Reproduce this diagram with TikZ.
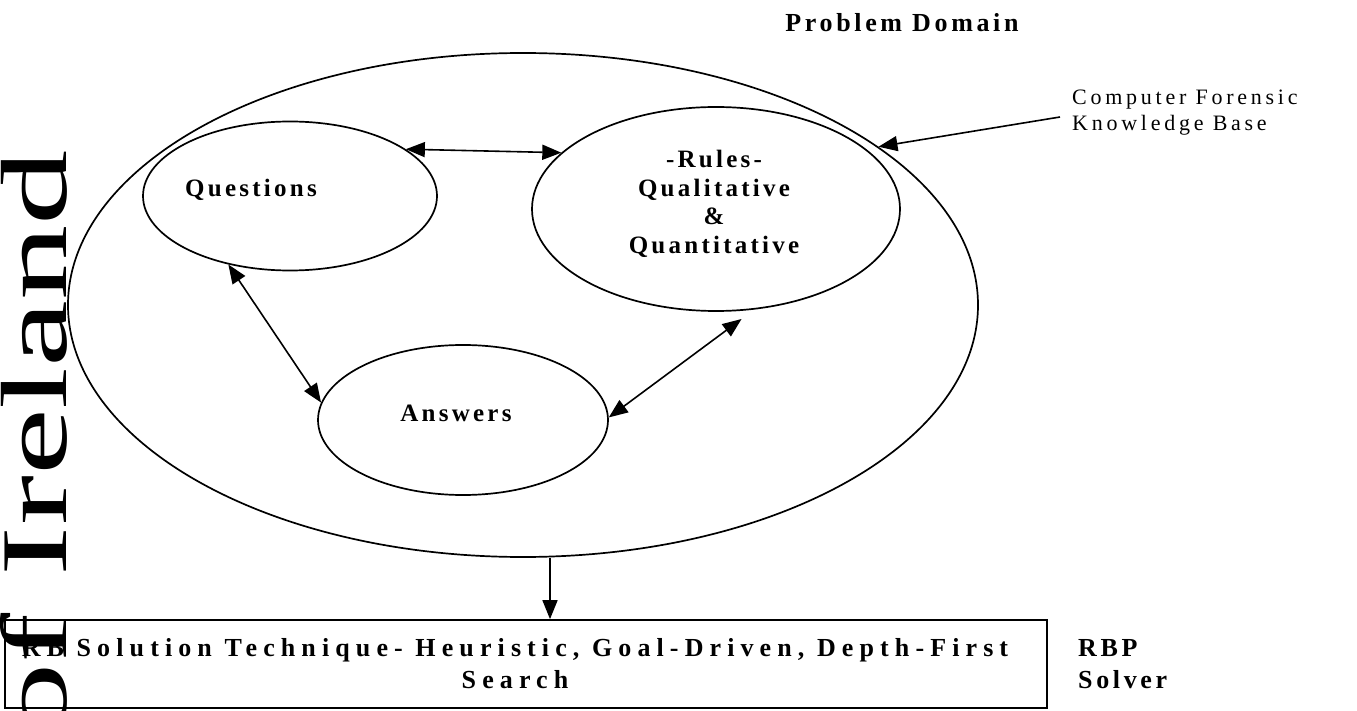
\documentclass[tikz,border=0pt]{standalone}
\usepackage{fontspec}
\usepackage{graphicx}
\setmainfont{Liberation Serif}
\newfontfamily\trk[LetterSpace=13]{Liberation Serif}
\newfontfamily\trkpd[LetterSpace=14]{Liberation Serif}
\newfontfamily\trkbox[LetterSpace=23.5]{Liberation Serif}
\newfontfamily\trkcf[LetterSpace=17]{Liberation Serif}
\usetikzlibrary{shapes.geometric,arrows.meta,calc}
\begin{document}
\begin{tikzpicture}[x=1pt,y=-1pt,
  ell/.style={draw, ellipse, line width=1.7pt, inner sep=0pt},
  arr/.style={line width=1.6pt, -{Triangle[length=19pt,width=15pt]}},
  darr/.style={line width=1.6pt, {Triangle[length=19pt,width=15pt]}-{Triangle[length=19pt,width=15pt]}},
  lbl/.style={font=\trk\bfseries\fontsize{25}{28.5}\selectfont, inner sep=0pt, align=center},
  wm/.style={font=\fontsize{94}{94}\selectfont, inner sep=0pt}]
\useasboundingbox (0,0) rectangle (1357,711);
\clip (0,0) rectangle (1357,711);
% watermark
\node[wm, rotate=90, anchor=base east] (wmk) at (66,150) {\scalebox{1.6}[1]{of Ireland}};
% shapes
\node[ell, minimum width=910pt, minimum height=504pt] (B) at (523,305) {};
\node[ell, minimum width=294pt, minimum height=149pt] (Q) at (290,196) {};
\node[ell, minimum width=368pt, minimum height=204pt] (R) at (716,209) {};
\node[ell, minimum width=290pt, minimum height=150pt] (A) at (463,420) {};
\node[draw, line width=1.7pt, minimum width=1042pt, minimum height=88pt, inner sep=0pt] (box) at (526,664) {};
% texts
\node[lbl] (qt) at (251,190) {Questions};
\node[lbl] (rt) at (714,204) {-Rules-\\Qualitative\\\&\\Quantitative};
\node[lbl] (at) at (456,413) {Answers};
\node[lbl, font=\trkpd\bfseries\fontsize{26}{28}\selectfont] (pd) at (902,23) {Problem Domain};
\node[font=\trkcf\fontsize{22}{26}\selectfont, align=left, anchor=west, inner sep=0pt] (cf) at (1072,113) {Computer Forensic\\Knowledge Base};
\node[font=\trkbox\bfseries\fontsize{26}{32}\selectfont, inner sep=0pt, align=center] (bt) at (515,664) {RB Solution Technique- Heuristic, Goal-Driven, Depth-First\\Search};
\node[font=\trkpd\bfseries\fontsize{26}{32}\selectfont, inner sep=0pt, align=left, anchor=west] (rbp) at (1078,664) {RBP\\Solver};
% connectors
\draw[darr] (Q.22) -- (R.160);
\draw[darr] (Q.228) -- (A.173);
\draw[darr] (A.1) -- ($(R.283)+(2,8)$);
\draw[arr] ($(cf.west)+(-12,4)$) -- (B.24);
\draw[arr] ($(B.south)+(27,0)$) -- ($(box.north)+(24,0)$);
\end{tikzpicture}
\end{document}
